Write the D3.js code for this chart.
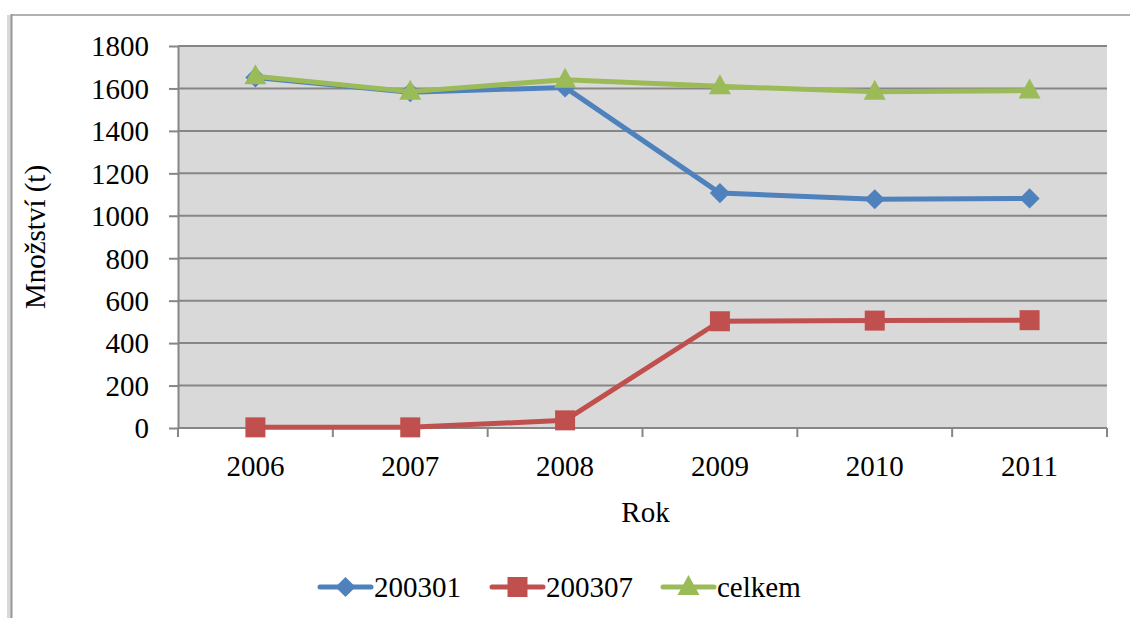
<!DOCTYPE html>
<html>
<head>
<meta charset="utf-8">
<script src="https://cdn.jsdelivr.net/npm/d3@7"></script>
<style>
  body { margin: 0; background: #fff; }
  svg text { font-family: 'Liberation Serif', 'Times New Roman', Tinos, 'DejaVu Serif', serif !important; fill: #000; }
</style>
</head>
<body>
<script>
// data
const years = ['2006', '2007', '2008', '2009', '2010', '2011'];
const s200301 = [1652, 1582, 1605, 1107, 1078, 1082];
const s200307 = [3, 3, 36, 503, 506, 508];
const celkem = [1657, 1585, 1641, 1610, 1584, 1590];
const yTicks = [0, 200, 400, 600, 800, 1000, 1200, 1400, 1600, 1800];

const series = [
  { name: '200301', values: s200301, color: '#4F81BD', marker: 'diamond' },
  { name: '200307', values: s200307, color: '#C0504D', marker: 'square' },
  { name: 'celkem', values: celkem, color: '#9BBB59', marker: 'triangle' }
];

const W = 1130, H = 618;
const plot = { left: 178, right: 1107, top: 46, bottom: 428 };

let svg = d3.select('body').append('svg')
  .attr('width', W).attr('height', H);

// outer frame (shadow + line)
svg.append('rect').attr('x', 7).attr('y', 15).attr('width', 4).attr('height', H)
  .attr('fill', '#d9d9d9');
svg.append('line').attr('x1', 11.5).attr('x2', 11.5).attr('y1', 14).attr('y2', H)
  .attr('stroke', '#999').attr('stroke-width', 2);
svg.append('line').attr('x1', 11).attr('x2', W).attr('y1', 15).attr('y2', 15)
  .attr('stroke', '#999').attr('stroke-width', 1.5);

let x = d3.scaleBand().domain(years).range([plot.left, plot.right]);
let y = d3.scaleLinear().domain([0, 1800]).range([plot.bottom, plot.top]);

svg.append('rect')
  .attr('x', plot.left).attr('y', plot.top)
  .attr('width', plot.right - plot.left).attr('height', plot.bottom - plot.top)
  .attr('fill', '#D9D9D9');

// gridlines
svg.append('g').selectAll('line')
  .data(yTicks.filter(d => d > 0))
  .enter().append('line')
  .attr('x1', plot.left).attr('x2', plot.right)
  .attr('y1', d => y(d)).attr('y2', d => y(d))
  .attr('stroke', '#868686').attr('stroke-width', 2);

// y axis
let yAxis = svg.append('g')
  .attr('transform', `translate(${plot.left},0)`)
  .call(d3.axisLeft(y).tickValues(yTicks).tickFormat(d3.format('d'))
    .tickSize(9).tickPadding(20).tickSizeOuter(0));
yAxis.attr('font-family', null);
yAxis.select('.domain').attr('stroke', '#868686').attr('stroke-width', 2);
yAxis.selectAll('.tick line').attr('stroke', '#868686').attr('stroke-width', 2);
yAxis.selectAll('.tick text').style('font-size', '29px').attr('dy', '0.34em');

// x axis
let xAxis = svg.append('g')
  .attr('transform', `translate(0,${plot.bottom})`)
  .call(d3.axisBottom(x).tickSize(0).tickPadding(27));
xAxis.attr('font-family', null);
xAxis.select('.domain').remove();
xAxis.append('line').attr('x1', plot.left).attr('x2', plot.right)
  .attr('stroke', '#868686').attr('stroke-width', 2);
xAxis.selectAll('.tick text').style('font-size', '29px');
// category boundary ticks
let bounds = years.map(d => x(d)).concat([x(years[years.length - 1]) + x.bandwidth()]);
xAxis.selectAll('.bound').data(bounds).enter().append('line')
  .attr('x1', d => d).attr('x2', d => d).attr('y1', 0).attr('y2', 9)
  .attr('stroke', '#868686').attr('stroke-width', 2);

// axis titles
svg.append('text')
  .attr('transform', `translate(45,${(plot.top + plot.bottom) / 2}) rotate(-90)`)
  .attr('text-anchor', 'middle')
  .style('font-size', '29px')
  .text('Množství (t)');
svg.append('text')
  .attr('x', (plot.left + plot.right) / 2 + 3).attr('y', 522)
  .attr('text-anchor', 'middle')
  .style('font-size', '29px')
  .text('Rok');

let cx = d => x(d) + x.bandwidth() / 2;

let markerPath = (type) => {
  if (type === 'diamond') return d3.symbol().type(d3.symbolDiamond2).size(260)();
  if (type === 'square') return 'M-10,-10H10V10H-10Z';
  return 'M0,-12L11,8H-11Z';
};

let line = d3.line().x((d, i) => cx(years[i])).y(d => y(d));

series.forEach(s => {
  svg.append('path')
    .datum(s.values)
    .attr('d', line)
    .attr('fill', 'none')
    .attr('stroke', s.color)
    .attr('stroke-width', 5)
    .attr('stroke-linejoin', 'round');
  svg.append('g').selectAll('path')
    .data(s.values)
    .enter().append('path')
    .attr('d', markerPath(s.marker))
    .attr('transform', (d, i) => `translate(${cx(years[i])},${y(d)})`)
    .attr('fill', s.color);
});

// legend
let legendX = [320, 492, 663];
series.forEach((s, i) => {
  let g = svg.append('g').attr('transform', `translate(${legendX[i]},587)`);
  g.append('line').attr('x1', 0).attr('x2', 51).attr('y1', 0).attr('y2', 0)
    .attr('stroke', s.color).attr('stroke-width', 5).attr('stroke-linecap', 'round');
  g.append('path').attr('d', markerPath(s.marker))
    .attr('transform', 'translate(25.5,0)').attr('fill', s.color);
  g.append('text').attr('x', 54).attr('y', 0).attr('dy', '0.35em')
    .style('font-size', '29px').text(s.name);
});
</script>
</body>
</html>
